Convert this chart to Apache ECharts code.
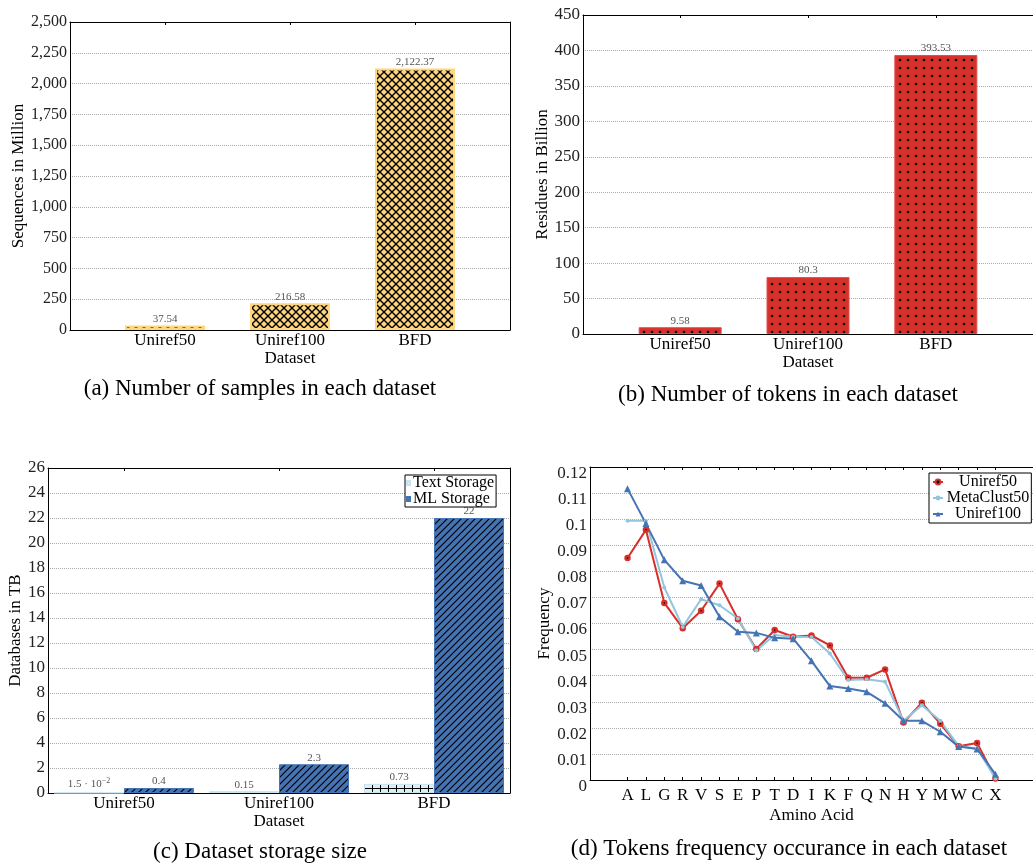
<!DOCTYPE html>
<html><head><meta charset="utf-8">
<script src="https://cdn.jsdelivr.net/npm/echarts@6/dist/echarts.min.js"></script>
<style>html,body{margin:0;padding:0;background:#fff}#c{width:1033px;height:863px}</style>
</head><body><div id="c"></div>
<script>
// ---------- data ----------
const datasets = ['Uniref50', 'Uniref100', 'BFD'];
const samplesMillion = [37.54, 216.58, 2122.37];
const residuesBillion = [9.58, 80.3, 393.53];
const textStorageTB = [0.015, 0.15, 0.73];
const mlStorageTB = [0.4, 2.3, 22];
const aminoAcids = ['A','L','G','R','V','S','E','P','T','D','I','K','F','Q','N','H','Y','M','W','C','X'];
const freqUniref50 =    [0.0851,0.0959,0.0679,0.0582,0.0649,0.0753,0.0616,0.0502,0.0575,0.0549,0.0554,0.0516,0.0392,0.0392,0.0424,0.0220,0.0296,0.0216,0.0129,0.0142,0.0006];
const freqMetaClust50 = [0.0994,0.0994,0.0738,0.0587,0.0693,0.0670,0.0619,0.0497,0.0556,0.0549,0.0548,0.0485,0.0383,0.0386,0.0377,0.0227,0.0287,0.0227,0.0130,0.0121,0.0006];
const freqUniref100 =   [0.1117,0.0983,0.0844,0.0764,0.0746,0.0626,0.0568,0.0564,0.0545,0.0542,0.0457,0.0360,0.0351,0.0338,0.0294,0.0227,0.0227,0.0185,0.0128,0.0119,0.0022];
const yTicksA = [0,250,500,750,1000,1250,1500,1750,2000,2250,2500];
const yTicksB = [0,50,100,150,200,250,300,350,400,450];
const yTicksC = [0,2,4,6,8,10,12,14,16,18,20,22,24,26];
const yTicksD = [0,0.01,0.02,0.03,0.04,0.05,0.06,0.07,0.08,0.09,0.1,0.11,0.12];

// ---------- styles ----------
const FONT = '"Liberation Serif", "Times New Roman", serif';
const YELLOW = '#FDD67E', RED = '#D7302A', BLUE = '#4574B4', LIGHT = '#DDEFF6', LBLUE = '#92C5DE';

function tile(size, bg, draw) {
  const c = document.createElement('canvas');
  c.width = c.height = size;
  const g = c.getContext('2d');
  g.fillStyle = bg; g.fillRect(0, 0, size, size);
  g.strokeStyle = '#000'; g.fillStyle = '#000';
  draw(g, size);
  return { image: c, repeat: 'repeat' };
}
const crossHatch = tile(8, YELLOW, (g, s) => {
  g.lineWidth = 1.4; g.beginPath();
  g.moveTo(-1, -1); g.lineTo(s + 1, s + 1);
  g.moveTo(-1, s + 1); g.lineTo(s + 1, -1);
  g.stroke();
});
const dots = tile(8, RED, (g, s) => {
  g.beginPath(); g.arc(4, 4, 1.3, 0, Math.PI * 2); g.fill();
});
const diag = tile(7, BLUE, (g, s) => {
  g.lineWidth = 1.2; g.beginPath();
  g.moveTo(-1, s + 1); g.lineTo(s + 1, -1);
  g.moveTo(-1, 1); g.lineTo(1, -1);
  g.moveTo(s - 1, s + 1); g.lineTo(s + 1, s - 1);
  g.stroke();
});
const gridPat = tile(8, LIGHT, (g, s) => {
  g.lineWidth = 1; g.beginPath();
  g.moveTo(0, 4.5); g.lineTo(s, 4.5);
  g.moveTo(4.5, 0); g.lineTo(4.5, s);
  g.stroke();
});

const grids = [
  { left: 70, top: 22, width: 440, height: 308 },
  { left: 583, top: 15, width: 456, height: 319 },
  { left: 48, top: 468, width: 462, height: 325 },
  { left: 590, top: 467, width: 449, height: 313 }
];

const xAxes = [], yAxes = [];
function addX(gi, min, max, vals, names, title, nameGap, margin) {
  const common = { type: 'value', gridIndex: gi, min, max, splitLine: { show: false },
    axisLine: { show: true, onZero: false, lineStyle: { color: '#000', width: 1 } },
    axisTick: { show: true, inside: true, length: 3, customValues: vals, lineStyle: { color: '#000' } } };
  xAxes.push(Object.assign({}, common, { position: 'bottom',
    axisLabel: { customValues: vals, formatter: v => names[Math.round(v)], margin, fontFamily: FONT, fontSize: 17, color: '#000' },
    name: title, nameLocation: 'middle', nameGap, nameTextStyle: { fontFamily: FONT, fontSize: 17, color: '#000' } }));
  xAxes.push(Object.assign({}, common, { position: 'top', axisLabel: { show: false } }));
}
function addY(gi, ticks, fmt, title, nameGap, fontSize, shiftDown) {
  const min = ticks[0], max = ticks[ticks.length - 1], interval = ticks[1] - ticks[0];
  const lab = { formatter: fmt, margin: 3, fontFamily: FONT, fontSize, color: '#222' };
  if (shiftDown) { lab.verticalAlign = 'top'; lab.lineHeight = 13; }
  yAxes.push({ type: 'value', gridIndex: gi, min, max, interval, position: 'left',
    axisLine: { show: true, onZero: false, lineStyle: { color: '#000' } }, axisTick: { show: false },
    splitLine: { show: true, lineStyle: { type: 'dotted', color: '#aaa', width: 1 } },
    axisLabel: lab,
    name: title, nameLocation: 'middle', nameGap, nameRotate: 90,
    nameTextStyle: { fontFamily: FONT, fontSize: 17, color: '#000' } });
  yAxes.push({ type: 'value', gridIndex: gi, min, max, interval, position: 'right',
    axisLine: { show: true, onZero: false, lineStyle: { color: '#000' } }, axisTick: { show: false },
    splitLine: { show: false }, axisLabel: { show: false } });
}
const idx = datasets.map((d, i) => i);
addX(0, -0.76, 2.76, idx, datasets, 'Dataset', 20, 2);
addX(1, -0.76, 2.76, idx, datasets, 'Dataset', 20, 2);
addX(2, -0.49, 2.49, idx, datasets, 'Dataset', 20, 2);
addX(3, -2.04, 22.04, aminoAcids.map((a, i) => i), aminoAcids, 'Amino Acid', 27, 7);
addY(0, yTicksA, v => v.toLocaleString('en-US'), 'Sequences in Million', 42, 16);
addY(1, yTicksB, v => String(v), 'Residues in Billion', 21, 17);
addY(2, yTicksC, v => String(v), 'Databases in TB', 18, 17);
addY(3, yTicksD, v => String(+v.toFixed(2)), 'Frequency', 35, 17, true);

const valLabel = (fmt) => ({ show: true, position: 'top', distance: 1, color: '#555', fontFamily: FONT, fontSize: 11,
  formatter: p => fmt(p.value[1]),
  rich: { sup: { fontFamily: FONT, fontSize: 8, color: '#555', padding: [0, 0, 7, 0] } } });
const sciFmt = v => {
  if (v < 0.1) {
    const e = Math.floor(Math.log10(v));
    const m = +(v / Math.pow(10, e)).toFixed(2);
    return m + ' \u00b7 10{sup|\u2212' + (-e) + '}';
  }
  return String(v);
};

const series = [
  { type: 'bar', name: 'samples', xAxisIndex: 0, yAxisIndex: 0, barWidth: 80,
    data: samplesMillion.map((v, i) => [i, v]),
    itemStyle: { color: crossHatch, borderColor: YELLOW, borderWidth: 2 },
    label: valLabel(v => v.toLocaleString('en-US', { minimumFractionDigits: 2 })) },
  { type: 'bar', name: 'tokens', xAxisIndex: 2, yAxisIndex: 2, barWidth: 83,
    data: residuesBillion.map((v, i) => [i, v]),
    itemStyle: { color: dots, borderColor: '#E0504A', borderWidth: 1 },
    label: valLabel(v => String(v)) },
  { type: 'bar', name: 'Text Storage', xAxisIndex: 4, yAxisIndex: 4, barWidth: 70, barGap: '0%',
    data: textStorageTB.map((v, i) => [i, v]),
    itemStyle: { color: gridPat, borderColor: '#C9E4EF', borderWidth: 1 },
    label: valLabel(sciFmt) },
  { type: 'bar', name: 'ML Storage', xAxisIndex: 4, yAxisIndex: 4, barWidth: 70, barGap: '0%',
    data: mlStorageTB.map((v, i) => [i, v]),
    itemStyle: { color: diag, borderColor: BLUE, borderWidth: 1 },
    label: valLabel(v => String(v)) },
  { type: 'line', name: 'Uniref50', xAxisIndex: 6, yAxisIndex: 6,
    data: freqUniref50.map((v, i) => [i, v]),
    lineStyle: { color: RED, width: 2 }, symbol: 'circle', symbolSize: 4,
    itemStyle: { color: '#000', borderColor: RED, borderWidth: 2.5 } },
  { type: 'line', name: 'MetaClust50', xAxisIndex: 6, yAxisIndex: 6,
    data: freqMetaClust50.map((v, i) => [i, v]),
    lineStyle: { color: LBLUE, width: 2 }, symbol: 'circle', symbolSize: 4,
    itemStyle: { color: LBLUE, borderWidth: 0 } },
  { type: 'line', name: 'Uniref100', xAxisIndex: 6, yAxisIndex: 6,
    data: freqUniref100.map((v, i) => [i, v]),
    lineStyle: { color: BLUE, width: 2 }, symbol: 'triangle', symbolSize: 7,
    itemStyle: { color: BLUE, borderWidth: 0 } }
];

const capStyle = (text, x, y) => ({ type: 'text', x, y,
  style: { text, fontFamily: FONT, fontSize: 23, fill: '#000', textAlign: 'center', textVerticalAlign: 'middle' } });

const option = {
  animation: false,
  backgroundColor: '#fff',
  textStyle: { fontFamily: FONT },
  grid: grids,
  xAxis: xAxes,
  yAxis: yAxes,
  legend: [
    { data: [{ name: 'Text Storage', itemStyle: { color: LIGHT } }, { name: 'ML Storage', itemStyle: { color: BLUE } }],
      left: 405, top: 475, orient: 'vertical', itemGap: 0, itemWidth: 3, itemHeight: 4, icon: 'rect',
      backgroundColor: '#fff', borderColor: '#000', borderWidth: 1, borderRadius: 0, padding: [0, 2, 0, 1],
      textStyle: { fontFamily: FONT, fontSize: 16, color: '#000', lineHeight: 14, padding: [0, 0, 0, -2] } },
    { data: ['Uniref50', 'MetaClust50', 'Uniref100'],
      left: 929, top: 473, orient: 'vertical', itemGap: 0, itemWidth: 10, itemHeight: 6,
      backgroundColor: '#fff', borderColor: '#000', borderWidth: 1, borderRadius: 0, padding: [1, 2, 1, 3],
      formatter: n => '{c|' + n + '}',
      textStyle: { fontFamily: FONT, fontSize: 16, color: '#000', lineHeight: 13.5,
        rich: { c: { fontFamily: FONT, fontSize: 16, color: '#000', width: 80, align: 'center', lineHeight: 13.5 } } } }
  ],
  graphic: [
    capStyle('(a) Number of samples in each dataset', 260, 389),
    capStyle('(b) Number of tokens in each dataset', 788, 395),
    capStyle('(c) Dataset storage size', 260, 852),
    capStyle('(d) Tokens frequency occurance in each dataset', 789, 849)
  ],
  series
};
const chart = echarts.init(document.getElementById('c'), null, { renderer: 'canvas' });
chart.setOption(option);
</script>
</body></html>
